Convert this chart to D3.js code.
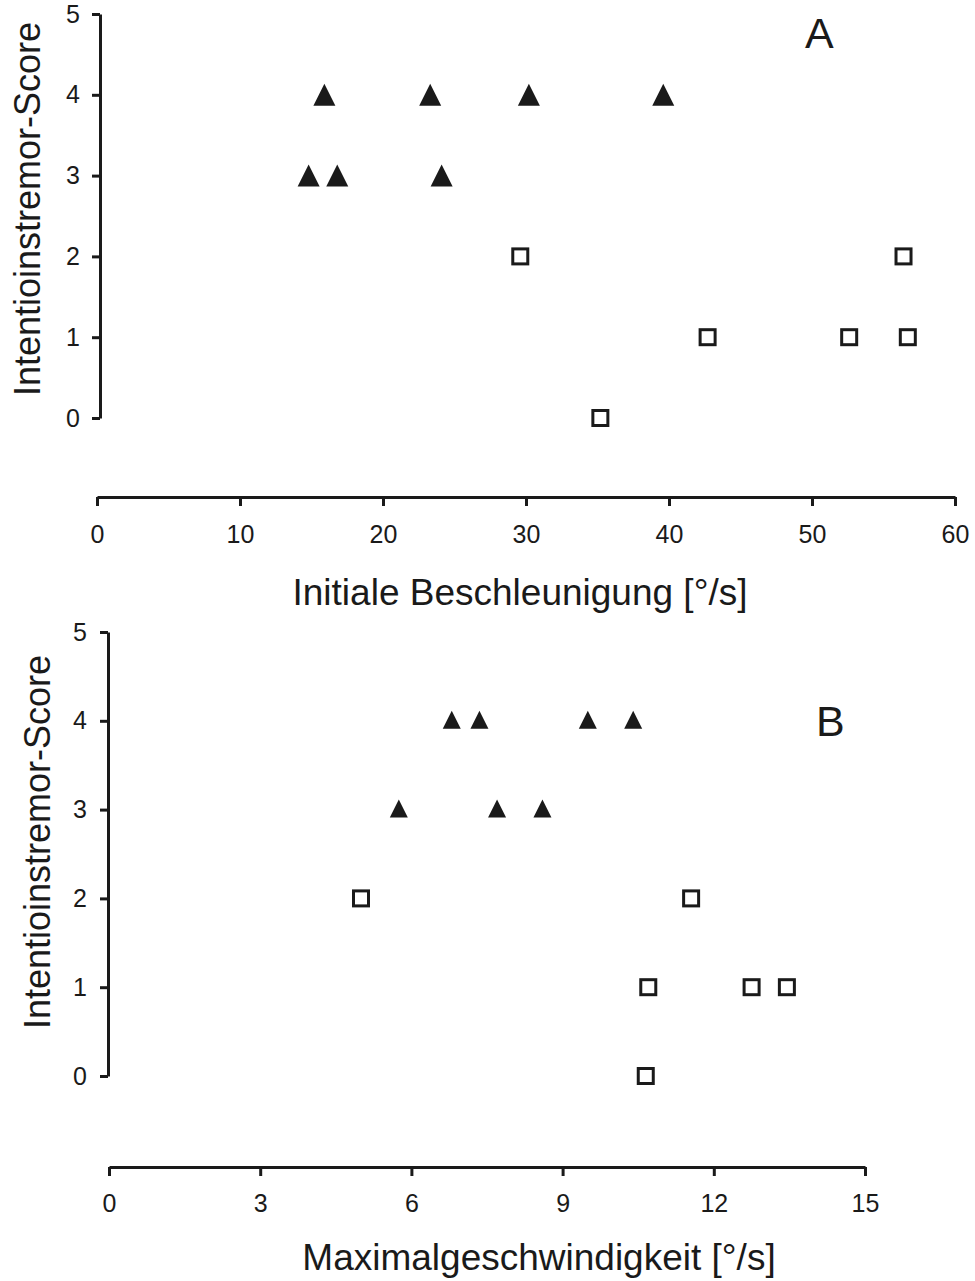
<!DOCTYPE html>
<html>
<head>
<meta charset="utf-8">
<script src="https://cdn.jsdelivr.net/npm/d3@7"></script>
<style>
  body { margin: 0; background: #fff; }
  svg text { font-family: Arial, "Liberation Sans", sans-serif; fill: #1a1a1a; }
</style>
</head>
<body>
<svg id="chart" width="975" height="1281"></svg>
<script>
// score values shared by both panels
const yTicks = [0, 1, 2, 3, 4, 5];

// panel A: initial acceleration
const accelTremorX = [15.9, 23.3, 30.2, 39.6, 14.8, 16.8, 24.1];
const accelTremorY = [4, 4, 4, 4, 3, 3, 3];
const accelOtherX = [29.6, 56.4, 42.7, 52.6, 56.7, 35.2];
const accelOtherY = [2, 2, 1, 1, 1, 0];
const accelTicks = [0, 10, 20, 30, 40, 50, 60];

// panel B: maximum velocity
const veloTremorX = [6.8, 7.35, 9.5, 10.4, 5.75, 7.7, 8.6];
const veloTremorY = [4, 4, 4, 4, 3, 3, 3];
const veloOtherX = [5.0, 11.55, 10.7, 12.75, 13.45, 10.65];
const veloOtherY = [2, 2, 1, 1, 1, 0];
const veloTicks = [0, 3, 6, 9, 12, 15];

const ink = "#1a1a1a";
const svg = d3.select("#chart");

function zip(xs, ys) {
  return xs.map((x, i) => ({ x, y: ys[i] }));
}

function drawPanel({
  xDomain, xRange, yRange, xTicks, xAxisY, yAxisX,
  tri, sq, tri_w, tri_top, tri_base,
  xTitle, xTitleX, xTitleY, yTitleX, yTitleY, letter, letterX, letterY,
  xPad, yPad
}) {
  const x = d3.scaleLinear().domain(xDomain).range(xRange);
  const y = d3.scaleLinear().domain([0, 5]).range(yRange);
  const fmt = d3.format("d");

  const g = svg.append("g");

  const xa = g.append("g")
    .attr("transform", `translate(0,${xAxisY})`)
    .call(d3.axisBottom(x).tickValues(xTicks).tickFormat(fmt)
      .tickSize(9).tickSizeOuter(0).tickPadding(xPad));
  const ya = g.append("g")
    .attr("transform", `translate(${yAxisX},0)`)
    .call(d3.axisLeft(y).tickValues(yTicks).tickFormat(fmt)
      .tickSize(8).tickSizeOuter(0).tickPadding(yPad));

  [xa, ya].forEach(a => {
    a.select(".domain").attr("stroke", ink).attr("stroke-width", 3);
    a.selectAll(".tick line").attr("stroke", ink).attr("stroke-width", 3);
    a.selectAll(".tick text").attr("font-size", 25).attr("fill", ink)
      .attr("font-family", "Arial, 'Liberation Sans', sans-serif");
  });

  g.selectAll("path.tri")
    .data(tri)
    .join("path")
    .attr("class", "tri")
    .attr("transform", d => `translate(${x(d.x)},${y(d.y)})`)
    .attr("d", `M0,${tri_top} L${tri_w / 2},${tri_base} L${-tri_w / 2},${tri_base} Z`)
    .attr("fill", ink);

  g.selectAll("rect.sq")
    .data(sq)
    .join("rect")
    .attr("class", "sq")
    .attr("x", d => x(d.x) - 7.5)
    .attr("y", d => y(d.y) - 7.5)
    .attr("width", 15)
    .attr("height", 15)
    .attr("fill", "#fff")
    .attr("stroke", ink)
    .attr("stroke-width", 3);

  g.append("text")
    .attr("x", xTitleX)
    .attr("y", xTitleY)
    .attr("text-anchor", "middle")
    .attr("font-size", 37)
    .text(xTitle);

  g.append("text")
    .attr("transform", `translate(${yTitleX},${yTitleY}) rotate(-90)`)
    .attr("text-anchor", "middle")
    .attr("font-size", 36)
    .text("Intentioinstremor-Score");

  g.append("text")
    .attr("x", letterX)
    .attr("y", letterY)
    .attr("font-size", 43)
    .text(letter);
}

drawPanel({
  xDomain: [0, 60], xRange: [97, 955], yRange: [418, 14],
  xTicks: accelTicks, xAxisY: 497, yAxisX: 100,
  tri: zip(accelTremorX, accelTremorY), sq: zip(accelOtherX, accelOtherY),
  tri_w: 22, tri_top: -11, tri_base: 11,
  xTitle: "Initiale Beschleunigung [°/s]", xTitleX: 520, xTitleY: 605,
  yTitleX: 40, yTitleY: 209, letter: "A", letterX: 805, letterY: 48,
  xPad: 19, yPad: 12
});

drawPanel({
  xDomain: [0, 15], xRange: [109, 865], yRange: [1076, 632],
  xTicks: veloTicks, xAxisY: 1167, yAxisX: 108,
  tri: zip(veloTremorX, veloTremorY), sq: zip(veloOtherX, veloOtherY),
  tri_w: 18, tri_top: -10, tri_base: 8,
  xTitle: "Maximalgeschwindigkeit [°/s]", xTitleX: 539, xTitleY: 1270,
  yTitleX: 50, yTitleY: 842, letter: "B", letterX: 816, letterY: 736,
  xPad: 18, yPad: 13
});
</script>
</body>
</html>
